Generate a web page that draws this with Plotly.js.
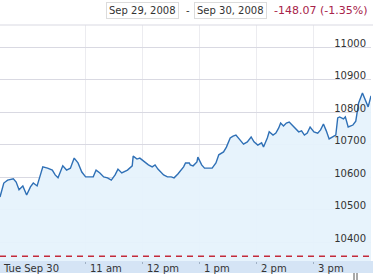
<!DOCTYPE html>
<html>
<head>
<meta charset="utf-8">
<script src="https://cdn.plot.ly/plotly-3.0.1.min.js"></script>
<style>html,body{margin:0;padding:0;background:#fff;}#chart{width:373px;height:280px;}</style>
</head>
<body>
<div id="chart"></div>
<script>
// ---- data ----
const times = [
 "09:30","09:34","09:38","09:44","09:47","09:50","09:54","09:58","10:02","10:05",
 "10:09","10:11","10:15","10:20","10:25","10:28","10:31","10:36","10:40","10:44",
 "10:48","10:52","10:56","11:00","11:04","11:08","11:11","11:15","11:19","11:23",
 "11:27","11:31","11:34","11:38","11:44","11:49","11:50","11:54","11:57","12:02",
 "12:06","12:10","12:13","12:16","12:22","12:26","12:30","12:33","12:37","12:43",
 "12:45","12:49","12:50","12:53","12:57","12:58","13:02","13:05","13:09","13:13",
 "13:17","13:20","13:25","13:28","13:32","13:35","13:38","13:42","13:46","13:50",
 "13:54","13:57","14:01","14:05","14:07","14:11","14:13","14:17","14:20","14:23",
 "14:25","14:28","14:31","14:34","14:38","14:42","14:44","14:47","14:50","14:53",
 "14:56","15:00","15:04","15:07","15:10","15:13","15:16","15:21","15:23","15:25",
 "15:27","15:31","15:33","15:36","15:41","15:44","15:47","15:51","15:54","15:57","16:00"
];
const values = [
 10539,10582,10591,10595,10585,10561,10573,10545,10570,10582,
 10573,10591,10632,10628,10622,10607,10598,10635,10622,10628,
 10659,10644,10616,10601,10601,10601,10622,10613,10601,10598,
 10591,10607,10625,10613,10622,10635,10665,10656,10659,10647,
 10638,10632,10638,10625,10607,10601,10601,10598,10610,10632,
 10644,10644,10638,10635,10647,10662,10638,10628,10628,10628,
 10644,10669,10678,10693,10721,10727,10730,10715,10702,10709,
 10724,10709,10699,10706,10693,10721,10740,10730,10736,10752,
 10767,10758,10767,10770,10758,10746,10740,10743,10730,10736,
 10755,10740,10736,10746,10764,10743,10718,10727,10730,10783,
 10786,10780,10786,10755,10761,10773,10829,10860,10838,10817,10851
];
const tradeDate = "2008-09-30";
const prevClose = [10356];
const tickTimes = ["09:30","11:00","12:00","13:00","14:00","15:00"];
const tickLabels = ["Tue Sep 30","11 am","12 pm","1 pm","2 pm","3 pm"];
const yTicks = [10400,10500,10600,10700,10800,10900,11000];
const dateFrom = "Sep 29, 2008";
const dateTo = "Sep 30, 2008";
const changeText = "-148.07 (-1.35%)";

// ---- chart ----
const xs = times.map(t => tradeDate + " " + t);
const font = "DejaVu Sans, Verdana, sans-serif";

const trace = {
  x: xs, y: values, type: "scatter", mode: "lines",
  line: {color: "#2f70b6", width: 1.4},
  fill: "tozeroy", fillcolor: "rgba(230,242,252,0.95)",
  hoverinfo: "skip"
};

const annotations = tickTimes.map((t, i) => ({
  x: tradeDate + " " + t, xref: "x", y: 0, yref: "paper",
  yanchor: "top", xanchor: "left", xshift: i === 0 ? 1 : 2, yshift: 0,
  text: tickLabels[i], showarrow: false,
  font: {family: font, size: 10, color: "#333"}
}));
const hy = 1 + (25-11)/236;
annotations.push(
  {x: 142/371, y: hy, xref: "paper", yref: "paper", xanchor: "center", yanchor: "middle",
   text: dateFrom, showarrow: false, bordercolor: "#dcdcdc", borderwidth: 1, borderpad: 2, bgcolor: "#fff",
   font: {family: font, size: 10, color: "#333"}},
  {x: 188/371, y: hy, xref: "paper", yref: "paper", xanchor: "center", yanchor: "middle",
   text: "-", showarrow: false, font: {family: font, size: 10, color: "#333"}},
  {x: 230/371, y: hy, xref: "paper", yref: "paper", xanchor: "center", yanchor: "middle",
   text: dateTo, showarrow: false, bordercolor: "#dcdcdc", borderwidth: 1, borderpad: 2, bgcolor: "#fff",
   font: {family: font, size: 10, color: "#333"}},
  {x: 369/371, y: hy, xref: "paper", yref: "paper", xanchor: "right", yanchor: "middle",
   text: changeText, showarrow: false, font: {family: font, size: 11, color: "#a8234a"}}
);

const layout = {
  width: 373, height: 280,
  margin: {l: 0, r: 2, t: 25, b: 19},
  paper_bgcolor: "#fff", plot_bgcolor: "#fff",
  showlegend: false,
  xaxis: {
    type: "date",
    range: [tradeDate + " 09:30", tradeDate + " 16:00"],
    tickvals: tickTimes.slice(1).map(t => tradeDate + " " + t),
    showticklabels: false,
    ticks: "outside", ticklen: 2, tickcolor: "#9fb0c4", tickwidth: 1,
    showgrid: true, gridcolor: "#ececf0", gridwidth: 1,
    showline: false, zeroline: false, fixedrange: true
  },
  yaxis: {
    side: "right",
    range: [10341.4, 11069.7],
    tickvals: yTicks,
    ticktext: yTicks.map(String),
    ticklabelposition: "inside",
    ticklabelshift: -4,
    ticklabelstandoff: 2,
    tickfont: {family: font, size: 10, color: "#333"},
    ticks: "",
    showgrid: true, gridcolor: "#d9d9e2", gridwidth: 1,
    zeroline: false, showline: false, fixedrange: true
  },
  shapes: [
    {type: "rect", xref: "paper", yref: "paper", x0: 0, x1: 373/371, y0: -12/236, y1: 0,
     fillcolor: "#d5e4f5", line: {width: 0}, layer: "below"},
    {type: "line", xref: "paper", yref: "y", x0: 0, x1: 373/371, y0: prevClose[0], y1: prevClose[0],
     line: {color: "#c42a3a", width: 1.3, dash: "6px,5px"}},
    {type: "line", xref: "paper", yref: "paper", x0: 0, x1: 373/371, y0: 1, y1: 1,
     line: {color: "#d9d9e2", width: 1}},
    {type: "line", xref: "paper", yref: "paper", x0: 354/371, x1: 354/371, y0: -12/236, y1: -19/236,
     line: {color: "#555", width: 1}},
    {type: "line", xref: "paper", yref: "paper", x0: 357/371, x1: 357/371, y0: -12/236, y1: -19/236,
     line: {color: "#555", width: 1}}
  ],
  annotations: annotations
};

Plotly.newPlot("chart", [trace], layout, {displayModeBar: false, staticPlot: true});
</script>
</body>
</html>
